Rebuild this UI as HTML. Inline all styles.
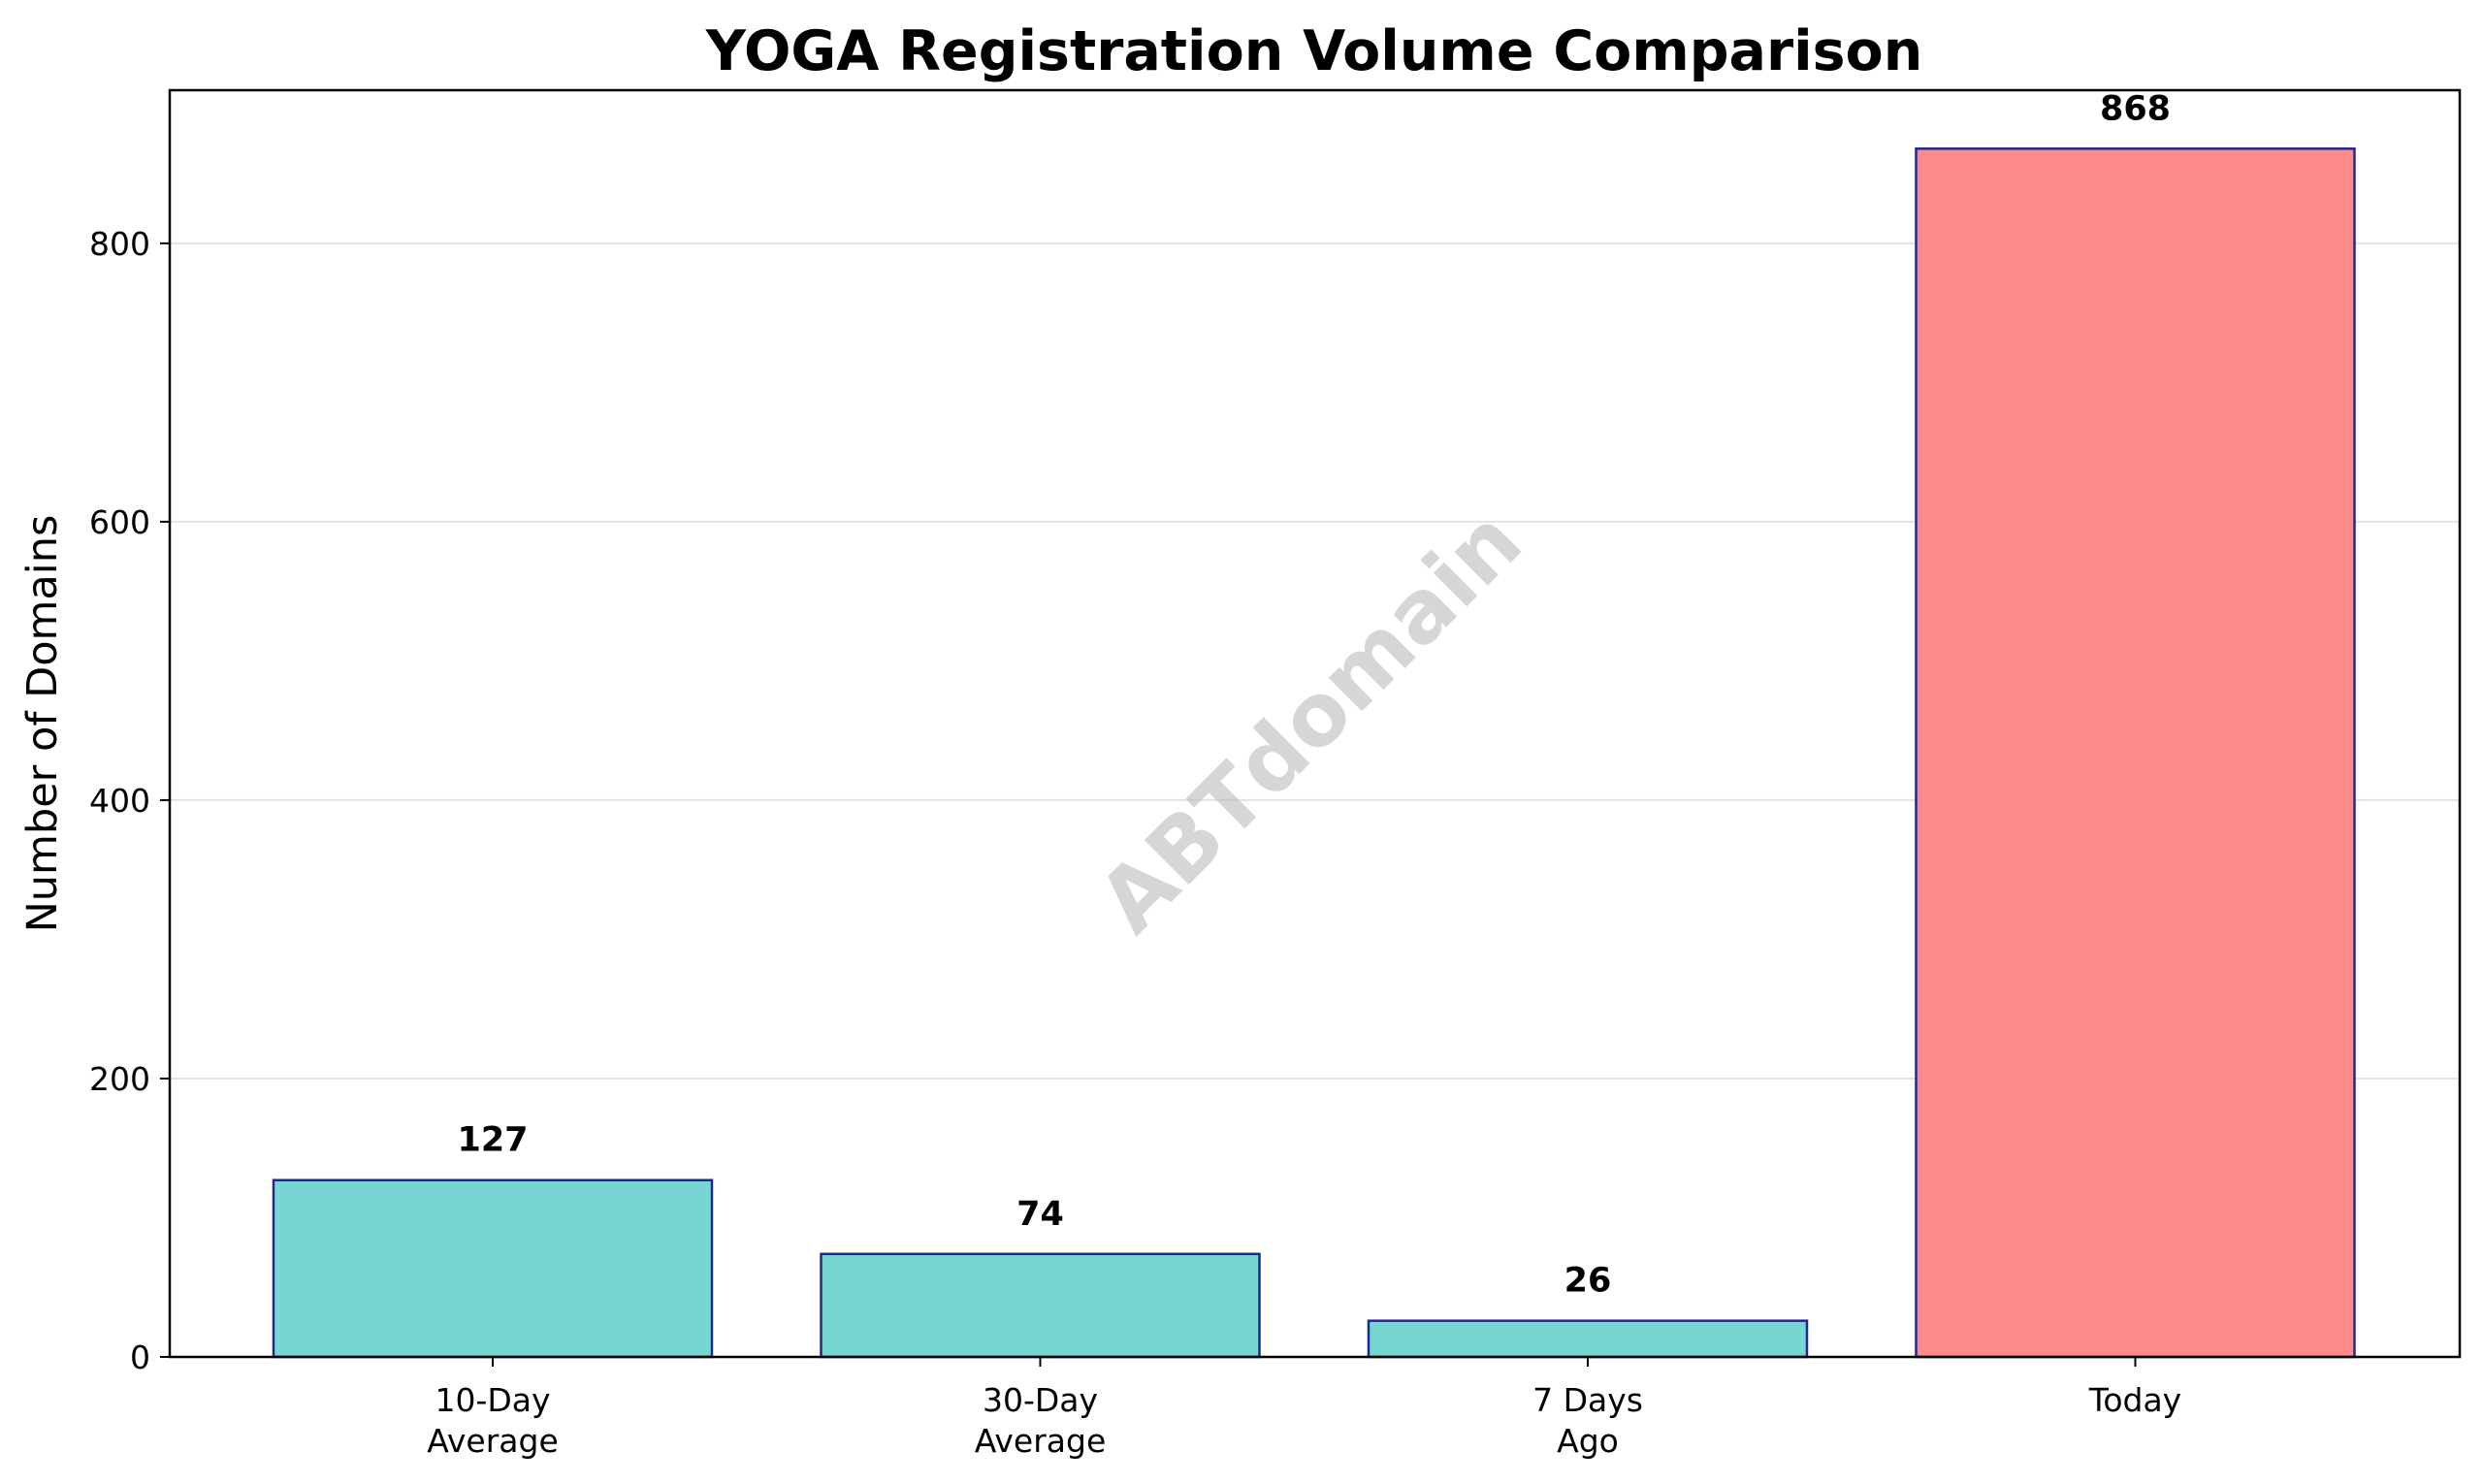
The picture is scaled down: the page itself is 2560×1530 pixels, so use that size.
<!DOCTYPE html>
<html><head><meta charset="utf-8"><style>
html,body{margin:0;padding:0;background:#fff}
svg{display:block;font-family:"DejaVu Sans","Liberation Sans",sans-serif}
</style></head><body>
<svg id="chart" width="2560" height="1530" viewBox="0 0 2560 1530" xmlns="http://www.w3.org/2000/svg">
<rect width="2560" height="1530" fill="#fff"/>
<text x="1355" y="72" text-anchor="middle" font-size="57" font-weight="bold" fill="#000">YOGA Registration Volume Comparison</text>
<text transform="translate(58,746) rotate(-90)" text-anchor="middle" font-size="43" fill="#000">Number of Domains</text>
<g id="grid"></g>
<text transform="translate(1355,748) rotate(-45)" text-anchor="middle" dominant-baseline="middle" font-size="89" font-weight="bold" fill="#bbbbbb" fill-opacity="0.6">ABTdomain</text>
<g id="bars"></g>
<rect x="175" y="93" width="2361" height="1306" fill="none" stroke="#000" stroke-width="2.5"/>
<g id="axes"></g>
</svg>
<script>
const categories = [["10-Day","Average"],["30-Day","Average"],["7 Days","Ago"],["Today"]];
const values = [127, 74, 26, 868];
const barColors = ["#76d7d2","#76d7d2","#76d7d2","#ff8a8a"];
const yTicks = [0, 200, 400, 600, 800];

const L=175,R=2536,T=93,B=1399,yMax=910;
const NS="http://www.w3.org/2000/svg";
const y=v=>B-(v/yMax)*(B-T);
const step=564.5, x0=508;
const xc=i=>x0+i*step;
const bw=452;
function mk(t,a,p){const e=document.createElementNS(NS,t);for(const k in a)e.setAttribute(k,a[k]);p.appendChild(e);return e;}
const grid=document.getElementById('grid'),bars=document.getElementById('bars'),axes=document.getElementById('axes');
yTicks.forEach(t=>{
  if(t>0){const g=mk('line',{x1:L,x2:R,y1:y(t),y2:y(t),stroke:'#e3e3e3','stroke-width':2},grid);
  
  }
  const tk=mk('line',{x1:L-10,x2:L,y1:y(t),y2:y(t),stroke:'#000','stroke-width':2},axes);
  
  
  const lb=mk('text',{x:L-20,y:y(t)+12,'text-anchor':'end','font-size':33,fill:'#000'},axes);
  lb.textContent=t;
  
  
});
values.forEach((v,i)=>{
  const r=mk('rect',{x:xc(i)-bw/2,y:y(v),width:bw,height:B-y(v),fill:barColors[i],stroke:'#1f2a8a','stroke-width':2.5},bars);
  
  
  const vl=mk('text',{x:xc(i),y:y(v)-30,'text-anchor':'middle','font-size':35,'font-weight':'bold',fill:'#000'},bars);
  vl.textContent=v;
  
  
  const tk=mk('line',{x1:xc(i),x2:xc(i),y1:B,y2:B+10,stroke:'#000','stroke-width':2},axes);
  
  
  categories[i].forEach((s,j)=>{
    const t=mk('text',{x:xc(i),y:1455+j*42,'text-anchor':'middle','font-size':33,fill:'#000'},axes);
    t.textContent=s;
    
    
  });
});
</script>
</body></html>
